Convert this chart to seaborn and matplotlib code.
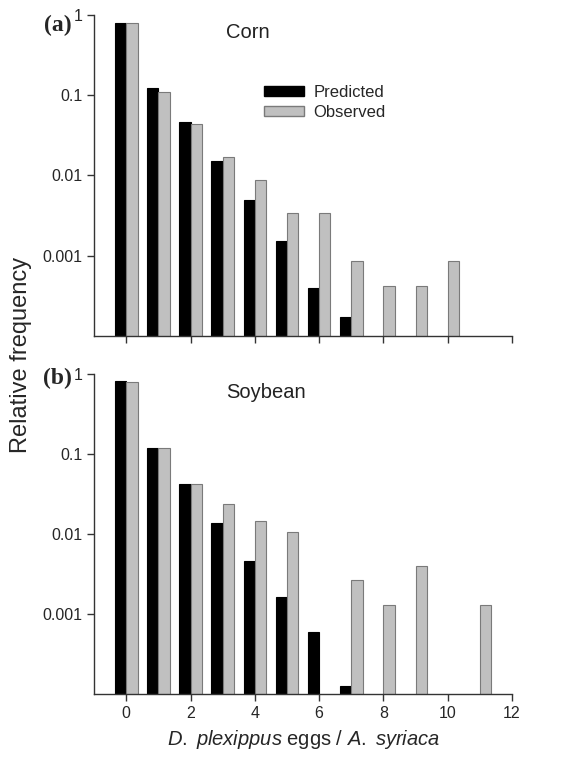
import numpy as np
import pandas as pd
import matplotlib
matplotlib.use("Agg")
import matplotlib.pyplot as plt
import matplotlib.ticker as mticker
from matplotlib.patches import Patch
import seaborn as sns

# Corn (a)
corn_pred_x = [0, 1, 2, 3, 4, 5, 6, 7]
corn_pred = [0.79, 0.122, 0.047, 0.0153, 0.0049, 0.00153, 0.0004, 0.00017]
corn_obs_x = [0, 1, 2, 3, 4, 5, 6, 7, 8, 9, 10]
corn_obs = [0.79, 0.111, 0.0442, 0.0172, 0.0088, 0.0034, 0.0034, 0.00086, 0.00042, 0.00042, 0.00086]

# Soybean (b)
soy_pred_x = [0, 1, 2, 3, 4, 5, 6, 7]
soy_pred = [0.80, 0.12, 0.0426, 0.0138, 0.00464, 0.00164, 0.0006, 0.000126]
soy_obs_x = [0, 1, 2, 3, 4, 5, 7, 8, 9, 11]
soy_obs = [0.79, 0.12, 0.0426, 0.0239, 0.0145, 0.0106, 0.00266, 0.00132, 0.004, 0.00132]

y_ticks = [1, 0.1, 0.01, 0.001]
y_labels = ["1", "0.1", "0.01", "0.001"]
x_ticks = [0, 2, 4, 6, 8, 10, 12]

sns.set_style("ticks")
plt.rcParams["font.family"] = ["Liberation Sans", "DejaVu Sans"]
plt.rcParams["mathtext.fontset"] = "custom"
plt.rcParams["mathtext.rm"] = "Liberation Sans"
plt.rcParams["mathtext.it"] = "Liberation Sans:italic"


def make_df(px, pv, ox, ov):
    a = pd.DataFrame({"eggs": px, "freq": pv, "type": "Predicted"})
    b = pd.DataFrame({"eggs": ox, "freq": ov, "type": "Observed"})
    return pd.concat([a, b], ignore_index=True)


fig = plt.figure(figsize=(5.74, 7.58), dpi=100)
ax_a = fig.add_axes([0.164, 0.557, 0.728, 0.423])
ax_b = fig.add_axes([0.164, 0.084, 0.728, 0.423])

panels = [
    (ax_a, make_df(corn_pred_x, corn_pred, corn_obs_x, corn_obs), "Corn", "(a)", 0.975, 0.968),
    (ax_b, make_df(soy_pred_x, soy_pred, soy_obs_x, soy_obs), "Soybean", "(b)", 0.97, 0.985),
]

for ax, df, crop, tag, ty, tagy in panels:
    ax.set_yscale("log")
    sns.barplot(data=df, x="eggs", y="freq", hue="type", native_scale=True,
                hue_order=["Predicted", "Observed"],
                palette={"Predicted": "black", "Observed": "#c0c0c0"},
                width=0.7, errorbar=None, legend=False, ax=ax)
    for p in ax.patches:
        fc = p.get_facecolor()
        if fc[0] > 0.5:
            p.set_edgecolor("#7a7a7a")
        else:
            p.set_edgecolor("black")
        p.set_linewidth(0.8)
    ax.set_ylim(1e-4, 1)
    ax.set_xlim(-1, 12)
    ax.yaxis.set_major_locator(mticker.FixedLocator(y_ticks))
    ax.yaxis.set_major_formatter(mticker.FixedFormatter(y_labels))
    ax.yaxis.set_minor_locator(mticker.NullLocator())
    ax.set_xticks(x_ticks)
    ax.tick_params(axis="both", direction="out", length=5, width=1,
                   labelsize=11.5, color="#333333")
    sns.despine(ax=ax)
    for s in ["left", "bottom"]:
        ax.spines[s].set_linewidth(1)
        ax.spines[s].set_color("#333333")
    ax.set_xlabel("")
    ax.set_ylabel("")
    ax.text(0.315, ty, crop, transform=ax.transAxes,
            fontsize=14.5, va="top", ha="left", color="#222222")
    ax.text(-0.053, tagy, tag, transform=ax.transAxes, fontsize=17,
            fontweight="bold", family=["Liberation Serif", "DejaVu Serif"],
            va="center", ha="right")

ax_a.set_xticklabels([])

handles = [Patch(facecolor="black", edgecolor="black", label="Predicted"),
           Patch(facecolor="#c0c0c0", edgecolor="#7a7a7a", label="Observed")]
ax_a.legend(handles=handles, loc="upper left", bbox_to_anchor=(0.37, 0.83),
            frameon=False, fontsize=12, handlelength=2.4, handleheight=0.5,
            labelspacing=0.3, handletextpad=0.6)

ax_b.set_xlabel(r"$\mathit{D.}$ $\mathit{plexippus}$ eggs / $\mathit{A.}$ $\mathit{syriaca}$",
                fontsize=14.5, labelpad=5)
fig.text(0.037, 0.532, "Relative frequency", rotation=90, fontsize=17,
         va="center", ha="center")

fig.savefig("out.png", dpi=100)
